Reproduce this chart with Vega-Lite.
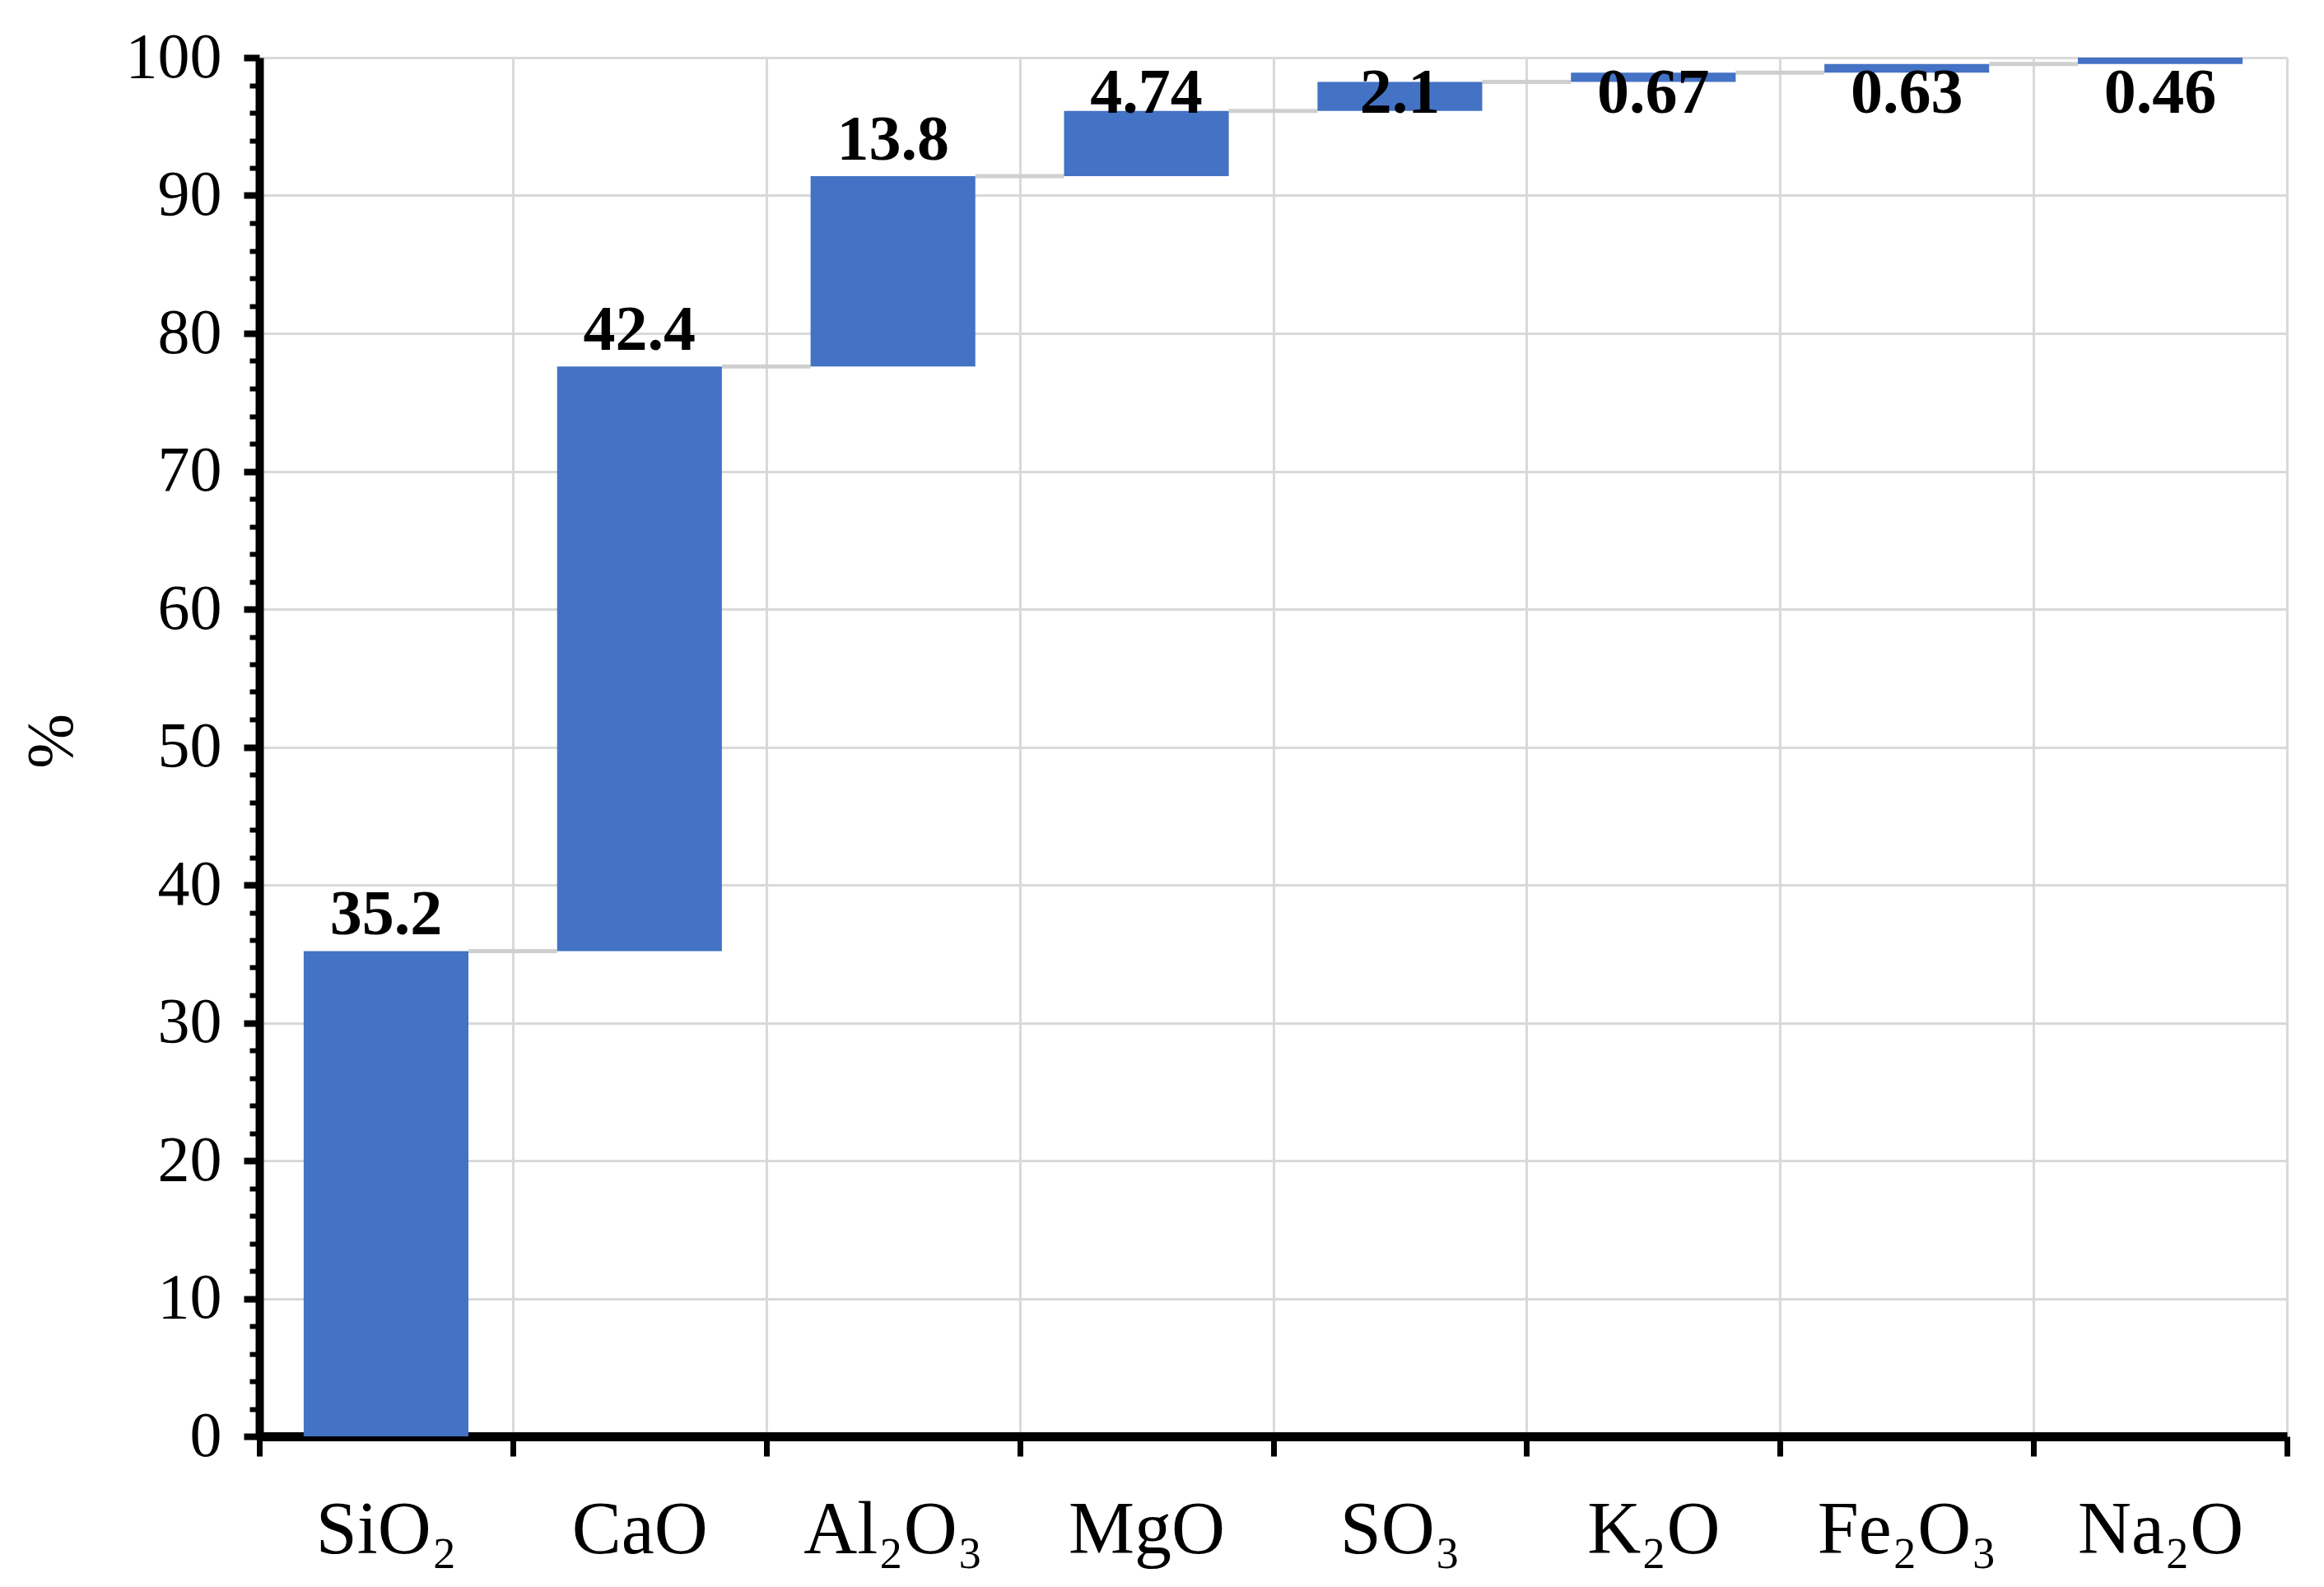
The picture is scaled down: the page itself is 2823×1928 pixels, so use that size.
{
  "$schema": "https://vega.github.io/schema/vega-lite/v6.json",
  "width": 2463,
  "height": 1675,
  "autosize": {"type": "none"},
  "padding": {"left": 315, "top": 70, "right": 45, "bottom": 183},
  "background": "white",
  "config": {"view": {"stroke": null}, "font": "Liberation Serif"},
  "data": {
    "values": [
      {"oxide": "SiO₂", "value": 35.2, "start": 0, "end": 35.2, "next": "CaO"},
      {"oxide": "CaO", "value": 42.4, "start": 35.2, "end": 77.6, "next": "Al₂O₃"},
      {"oxide": "Al₂O₃", "value": 13.8, "start": 77.6, "end": 91.4, "next": "MgO"},
      {"oxide": "MgO", "value": 4.74, "start": 91.4, "end": 96.14, "next": "SO₃"},
      {"oxide": "SO₃", "value": 2.1, "start": 96.14, "end": 98.24, "next": "K₂O"},
      {"oxide": "K₂O", "value": 0.67, "start": 98.24, "end": 98.91, "next": "Fe₂O₃"},
      {"oxide": "Fe₂O₃", "value": 0.63, "start": 98.91, "end": 99.54, "next": "Na₂O"},
      {"oxide": "Na₂O", "value": 0.46, "start": 99.54, "end": 100.0, "next": null}
    ]
  },
  "layer": [
    {
      "transform": [{"filter": "datum.next != null"}],
      "mark": {"type": "rule", "color": "#cfcfcf", "strokeWidth": 5},
      "encoding": {
        "x": {"field": "oxide", "type": "nominal", "sort": null, "bandPosition": 0.825,
              "scale": {"domain": ["SiO₂", "CaO", "Al₂O₃", "MgO", "SO₃", "K₂O", "Fe₂O₃", "Na₂O"], "paddingInner": 0, "paddingOuter": 0}},
        "x2": {"field": "next", "bandPosition": 0.175},
        "y": {"field": "end", "type": "quantitative", "scale": {"domain": [0, 100], "nice": false, "zero": true}}
      }
    },
    {
      "mark": {"type": "bar", "color": "#4472C4", "width": {"band": 0.65}},
      "encoding": {
        "x": {
          "field": "oxide", "type": "nominal", "sort": null,
          "scale": {"domain": ["SiO₂", "CaO", "Al₂O₃", "MgO", "SO₃", "K₂O", "Fe₂O₃", "Na₂O"], "paddingInner": 0, "paddingOuter": 0},
          "axis": {
            "title": null,
            "tickBand": "extent",
            "grid": true,
            "gridColor": "#d9d9d9",
            "gridWidth": 3,
            "domainColor": "black",
            "domainWidth": 11,
            "tickColor": "black",
            "tickWidth": 7,
            "tickSize": 24,
            "labelFont": "Liberation Serif",
            "labelFontSize": 90,
            "labelColor": "black",
            "labelPadding": 90,
            "labelLimit": 0,
            "labelAngle": 0,
            "labelAlign": "center",
            "labelFlush": false,
            "labelBound": false
          }
        },
        "y": {
          "field": "start", "type": "quantitative",
          "scale": {"domain": [0, 100], "nice": false, "zero": true},
          "axis": {
            "title": "%",
            "values": [0, 2, 4, 6, 8, 10, 12, 14, 16, 18, 20, 22, 24, 26, 28, 30, 32, 34, 36, 38, 40, 42, 44, 46, 48, 50, 52, 54, 56, 58, 60, 62, 64, 66, 68, 70, 72, 74, 76, 78, 80, 82, 84, 86, 88, 90, 92, 94, 96, 98, 100],
            "tickCount": 200,
            "format": "d",
            "labelExpr": "datum.value % 10 === 0 ? datum.label : ''",
            "labelOverlap": false,
            "labelBound": false,
            "labelFlush": false,
            "grid": true,
            "gridColor": "#d9d9d9",
            "gridWidth": 3,
            "gridOpacity": {"condition": {"test": "datum.value % 10 === 0", "value": 1}, "value": 0},
            "tickSize": {"condition": {"test": "datum.value % 10 === 0", "value": 19}, "value": 12},
            "tickWidth": {"condition": {"test": "datum.value % 10 === 0", "value": 8}, "value": 6},
            "tickColor": "black",
            "domainColor": "black",
            "domainWidth": 10,
            "labelFont": "Liberation Serif",
            "labelFontSize": 78,
            "labelColor": "black",
            "labelPadding": 27,
            "titleFont": "Liberation Serif",
            "titleFontSize": 80,
            "titleFontWeight": "normal",
            "titleColor": "black",
            "titleX": -252,
            "titleY": 830,
            "titleAngle": 270,
            "titleAlign": "center",
            "titleBaseline": "middle"
          }
        },
        "y2": {"field": "end"}
      }
    },
    {
      "transform": [{"filter": "datum.end < 93"}],
      "mark": {"type": "text", "font": "Liberation Serif", "fontWeight": "bold", "fontSize": 78, "dy": -20, "baseline": "alphabetic", "color": "black"},
      "encoding": {
        "x": {"field": "oxide", "type": "nominal", "sort": null},
        "y": {"field": "end", "type": "quantitative"},
        "text": {"field": "value", "type": "nominal"}
      }
    },
    {
      "transform": [{"filter": "datum.end >= 93"}],
      "mark": {"type": "text", "font": "Liberation Serif", "fontWeight": "bold", "fontSize": 78, "baseline": "alphabetic", "color": "black"},
      "encoding": {
        "x": {"field": "oxide", "type": "nominal", "sort": null},
        "y": {"datum": 96},
        "text": {"field": "value", "type": "nominal"}
      }
    }
  ]
}
